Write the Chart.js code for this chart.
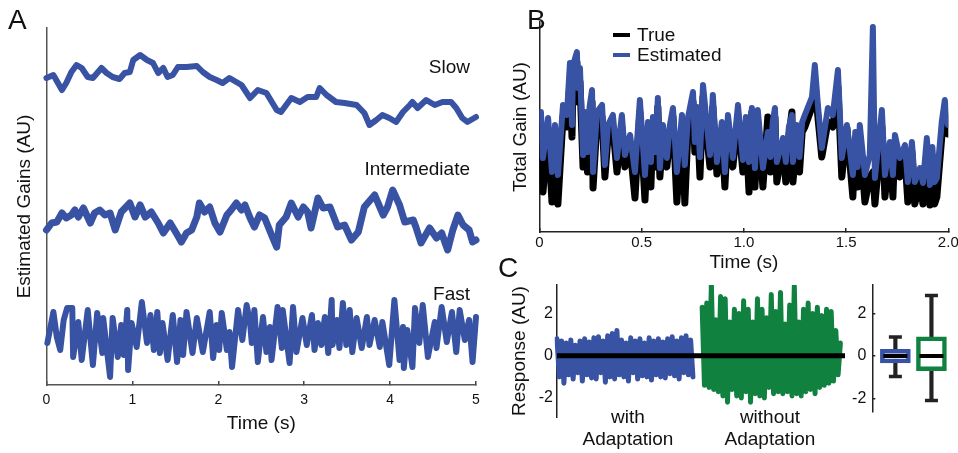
<!DOCTYPE html>
<html>
<head>
<meta charset="utf-8">
<script src="https://cdn.jsdelivr.net/npm/chart.js@4.4.1/dist/chart.umd.min.js"></script>
<style>
  body { margin: 0; width: 958px; height: 453px; position: relative; overflow: hidden; background: #fff;
         font-family: 'Liberation Sans', Arial, sans-serif; color: #111; }
  canvas { position: absolute; }
  .t { position: absolute; font-size: 19px; line-height: 19px; white-space: nowrap; }
  .big { position: absolute; font-size: 28px; line-height: 28px; }
  .two { position: absolute; font-size: 19px; line-height: 22px; width: 140px; text-align: center; }
  .key { position: absolute; width: 17px; height: 4px; }
</style>
</head>
<body>
<canvas id="chartA" width="495" height="453" style="left:0;top:0"></canvas>
<canvas id="chartB" width="463" height="290" style="left:495px;top:0"></canvas>
<canvas id="chartC" width="360" height="178" style="left:495px;top:275px"></canvas>
<canvas id="chartBox" width="118" height="178" style="left:840px;top:275px"></canvas>

<div class="big" style="left:8px;top:6px">A</div>
<div class="big" style="left:527px;top:6px">B</div>
<div class="big" style="left:498px;top:254px">C</div>

<div class="t" style="right:488px;top:57px">Slow</div>
<div class="t" style="right:488px;top:159px">Intermediate</div>
<div class="t" style="right:488px;top:284px">Fast</div>

<div class="key" style="left:613px;top:33px;background:#000"></div>
<div class="t" style="left:637px;top:25px">True</div>
<div class="key" style="left:613px;top:53px;background:#3953a4"></div>
<div class="t" style="left:637px;top:45px">Estimated</div>

<div class="two" style="left:558px;top:406px">with<br>Adaptation</div>
<div class="two" style="left:700px;top:406px">without<br>Adaptation</div>

<script>
// ---- Panel A: estimated gains (time in s, gain in AU) ----
const slowT = [0.00,0.08,0.18,0.23,0.29,0.35,0.41,0.48,0.54,0.64,0.70,0.77,0.85,0.91,0.97,1.01,1.09,1.17,1.24,1.30,
  1.36,1.41,1.47,1.53,1.63,1.75,1.82,1.90,1.98,2.05,2.13,2.21,2.27,2.37,2.46,2.56,2.68,2.73,2.85,2.95,
  3.04,3.14,3.18,3.26,3.37,3.47,3.61,3.70,3.76,3.84,3.91,3.99,4.07,4.15,4.23,4.26,4.32,4.42,4.52,4.61,
  4.71,4.77,4.84,4.90,5.00];
const slowV = [30.7,31.0,29.5,30.2,31.3,32.0,31.7,30.8,30.7,31.7,31.2,30.8,30.6,31.2,31.3,32.5,33.0,32.5,32.2,31.2,
  31.7,30.8,31.0,31.8,31.8,31.9,31.3,30.8,30.5,30.2,30.7,30.3,30.0,28.7,29.5,29.2,27.5,27.3,28.7,28.3,
  28.8,28.8,29.7,29.0,28.3,28.2,28.0,27.2,26.0,26.5,27.0,26.7,26.3,27.3,28.0,28.3,27.7,28.5,28.0,28.3,
  28.3,27.7,26.7,26.3,26.8];

const midT = [0.00,0.06,0.12,0.18,0.23,0.29,0.33,0.37,0.43,0.51,0.56,0.62,0.68,0.74,0.80,0.87,0.97,1.03,1.09,1.15,
  1.22,1.30,1.36,1.44,1.51,1.57,1.63,1.69,1.75,1.78,1.84,1.90,1.96,2.02,2.10,2.15,2.21,2.27,2.31,2.37,
  2.42,2.48,2.54,2.62,2.68,2.71,2.79,2.85,2.93,2.99,3.04,3.08,3.16,3.22,3.30,3.39,3.47,3.55,3.63,3.70,
  3.82,3.92,3.97,4.03,4.11,4.17,4.27,4.30,4.36,4.46,4.54,4.60,4.67,4.73,4.79,4.85,4.92,4.96,5.00];
const midV = [15.5,16.2,16.3,17.2,16.7,17.0,17.5,16.8,17.7,16.2,17.2,17.5,17.0,17.2,15.5,17.3,18.2,16.8,18.0,16.8,
  17.3,16.2,15.2,16.2,15.2,14.3,15.2,15.5,16.8,18.2,17.3,17.8,16.2,15.3,17.0,17.5,18.2,17.5,18.0,16.7,
  15.8,17.0,16.7,15.0,13.8,16.0,16.8,18.2,16.8,17.8,17.3,15.7,18.7,17.7,17.8,15.8,16.0,14.5,15.3,17.8,
  19.0,17.0,17.8,19.5,18.0,16.3,16.5,15.8,14.2,15.7,14.7,15.2,13.5,15.5,17.0,16.0,15.5,14.3,14.5];

const fastT = [0.01,0.08,0.12,0.16,0.20,0.24,0.30,0.31,0.37,0.41,
  0.48,0.54,0.59,0.65,0.66,0.74,0.77,0.83,0.87,0.90,
  0.94,0.95,0.99,1.05,1.11,1.17,1.21,1.25,1.29,1.32,
  1.35,1.41,1.47,1.52,1.56,1.59,1.63,1.70,1.75,1.82,
  1.90,1.94,1.98,2.01,2.04,2.10,2.13,2.16,2.23,2.28,
  2.33,2.37,2.39,2.42,2.46,2.52,2.56,2.60,2.62,2.69,
  2.74,2.75,2.83,2.87,2.91,2.98,3.03,3.09,3.12,3.16,
  3.20,3.24,3.28,3.32,3.33,3.38,3.41,3.45,3.49,3.53,
  3.56,3.61,3.67,3.73,3.76,3.82,3.88,3.91,3.99,4.05,
  4.11,4.15,4.16,4.20,4.26,4.29,4.34,4.38,4.44,4.52,
  4.54,4.60,4.66,4.72,4.77,4.81,4.87,4.92,4.96,5.00];
const fastV = [4.2,7.3,4.8,3.5,6.5,7.7,7.7,2.8,6.3,2.5,
  7.5,2.0,7.2,3.2,6.7,0.8,6.7,2.8,6.0,3.0,
  7.5,1.5,6.2,3.8,8.3,4.2,7.0,3.5,7.3,3.2,
  6.2,2.5,7.0,2.3,6.5,3.0,7.3,3.2,6.7,3.3,
  7.3,2.7,6.0,3.5,7.2,3.5,5.3,1.8,7.5,4.5,
  8.0,6.2,4.2,7.5,2.3,6.8,3.3,5.8,2.5,7.8,
  3.7,7.5,2.2,7.8,3.3,6.7,4.0,7.0,3.5,6.2,
  4.0,6.8,3.2,8.5,4.0,6.5,3.7,8.2,4.0,7.5,
  3.3,6.7,3.7,6.8,4.0,6.5,3.8,6.3,2.0,8.5,
  2.5,5.8,1.7,5.5,1.8,7.7,4.2,8.0,2.8,6.3,
  3.7,7.8,4.3,7.3,3.3,7.5,4.5,6.5,2.3,6.8];

// ---- Panel B: total gain, true vs estimated ----
const bT = [0.000,0.007,0.017,0.042,0.061,0.076,0.090,0.115,0.134,0.149,
  0.159,0.164,0.183,0.188,0.198,0.213,0.222,0.235,0.245,0.257,
  0.262,0.281,0.306,0.320,0.335,0.359,0.379,0.403,0.418,0.443,
  0.467,0.491,0.516,0.531,0.545,0.555,0.567,0.579,0.589,0.604,
  0.623,0.638,0.653,0.672,0.697,0.711,0.726,0.751,0.760,0.772,
  0.785,0.800,0.819,0.834,0.848,0.868,0.892,0.907,0.922,0.946,
  0.971,0.995,1.010,1.025,1.039,1.054,1.068,1.093,1.117,1.130,
  1.141,1.152,1.161,1.191,1.205,1.220,1.235,1.240,1.259,1.272,
  1.285,1.298,1.333,1.347,1.362,1.381,1.411,1.435,1.460,1.479,
  1.504,1.533,1.545,1.556,1.567,1.592,1.616,1.631,1.641,1.675,
  1.690,1.714,1.729,1.739,1.763,1.788,1.802,1.822,1.836,1.861,
  1.876,1.895,1.910,1.922,1.933,1.944,1.968,1.983,1.998];
const estGain = [9.4,12.0,7.4,11.4,6.0,10.7,5.7,12.7,11.7,16.9,
  10.7,16.7,18.0,14.4,16.4,7.7,12.0,8.0,12.5,14.2,
  6.0,12.0,12.7,6.7,10.7,11.7,7.4,11.7,7.7,9.7,
  6.0,13.2,5.7,11.0,7.0,11.5,8.0,13.4,6.4,10.7,
  7.4,10.7,12.4,6.0,11.7,6.7,11.4,14.0,9.0,12.5,
  7.5,14.7,10.7,7.7,13.7,7.0,11.0,6.0,11.7,7.4,
  12.7,7.2,11.5,7.0,12.4,6.4,12.2,6.4,10.0,7.5,
  11.0,12.4,7.0,9.4,7.0,10.5,11.7,7.0,10.7,7.5,
  11.0,11.7,13.5,16.7,12.7,8.4,12.4,11.7,16.2,7.4,
  10.7,5.7,10.0,6.5,10.7,5.7,7.7,20.5,5.4,12.2,
  5.7,9.0,5.7,9.7,7.4,8.7,5.0,9.0,5.0,6.4,
  4.9,9.4,4.7,8.5,5.0,5.4,11.0,13.2,10.7];
const trueGain = [8.5,10.5,4.0,10.0,3.0,9.5,2.8,11.5,10.5,15.0,
  9.5,15.5,17.0,13.0,15.0,6.5,11.0,6.0,11.5,13.0,
  4.4,11.0,11.5,5.5,9.5,10.5,6.0,10.5,6.5,8.5,
  3.4,12.0,3.2,10.0,4.5,10.5,6.5,12.5,5.5,9.5,
  6.5,9.5,11.5,3.0,10.5,2.9,10.0,13.0,8.0,11.5,
  5.5,13.5,9.5,6.5,12.5,5.8,10.0,4.5,10.5,6.5,
  11.5,6.0,10.5,4.0,12.0,4.5,11.0,4.5,11.5,6.0,
  10.5,11.5,5.0,8.5,5.0,9.5,12.0,5.0,9.5,6.0,
  10.0,10.5,12.5,15.0,11.5,7.5,11.0,10.5,14.5,5.5,
  10.4,3.5,9.0,4.5,9.5,3.0,5.5,6.0,2.8,10.5,
  3.5,8.5,3.5,9.0,5.5,7.5,3.0,8.0,2.8,5.0,
  2.8,8.0,2.7,7.0,2.8,3.5,9.5,12.0,9.8];

// ---- Panel C: response with / without adaptation ----
const withAdapt = [0.8,-1.0,0.7,-1.3,0.6,-0.9,0.75,-1.1,0.5,-0.8,0.7,-1.2,0.8,-0.9,0.65,-1.05,0.85,-1.1,0.9,-0.8,
  0.7,-1.25,0.95,-1.0,1.05,-1.1,1.2,-0.9,0.75,-1.0,0.6,-1.2,0.85,-0.8,0.7,-1.1,0.8,-0.95,0.6,-1.0,
  0.85,-1.15,0.7,-0.9,0.8,-1.0,0.65,-1.05,0.8,-0.85,0.9,-0.95,0.7,-1.1,0.85,-0.8,0.95,-0.9,0.75,-1.0];
const withoutAdapt = [2.3,-1.4,2.5,-1.5,3.4,-1.6,1.7,-1.7,2.8,-1.9,2.7,-2.2,1.6,-1.6,2.2,-1.9,2.0,-2.0,2.6,-1.7,
  2.2,-2.2,1.6,-1.8,2.7,-1.9,2.2,-2.0,1.8,-1.5,2.9,-1.8,2.1,-1.7,3.0,-1.8,1.5,-1.7,2.4,-1.9,
  3.3,-1.8,1.6,-1.9,2.2,-1.7,2.5,-1.6,2.0,-1.8,2.3,-1.5,1.9,-1.4,2.2,-1.3,2.1,-1.2,1.2,-0.9,0.6];
const gapSamples = 3;
const tailSamples = 2;

// box plot summaries
const boxGroups = [1, 2];
const boxMin = [-0.97, -2.11];
const boxQ1 = [-0.33, -0.70];
const boxMed = [0, 0];
const boxQ3 = [0.32, 0.91];
const boxMax = [0.90, 2.86];

const blue = '#3953a4', green = '#11813f', ink = '#111';
Chart.defaults.font.family = "'Liberation Sans', Arial, sans-serif";
Chart.defaults.color = ink;

const pts = (xs, ys) => xs.map((x, i) => ({ x, y: ys[i] }));
function fix(size) {
  return s => {
    if (s.isHorizontal()) { s.height = size; s.paddingLeft = 0; s.paddingRight = 0; }
    else { s.width = size; s.paddingTop = 0; s.paddingBottom = 0; }
  };
}
const common = {
  responsive: false, animation: false, devicePixelRatio: 1,
  elements: { point: { radius: 0 }, line: { tension: 0, borderJoinStyle: 'round', borderCapStyle: 'round' } },
  plugins: { legend: { display: false }, tooltip: { enabled: false } }
};

// A
new Chart(document.getElementById('chartA'), {
  type: 'line',
  data: { datasets: [
    { data: pts(slowT, slowV), borderColor: blue, borderWidth: 6, clip: false },
    { data: pts(midT, midV), borderColor: blue, borderWidth: 7, clip: false },
    { data: pts(fastT, fastV), borderColor: blue, borderWidth: 6, clip: false }
  ]},
  options: { ...common,
    layout: { autoPadding: false, padding: { left: 0, right: 19, top: 28, bottom: 0 } },
    scales: {
      x: { type: 'linear', min: 0, max: 5,
        ticks: { stepSize: 1, font: { size: 14 }, padding: 11 },
        grid: { drawOnChartArea: false, tickLength: -4, color: '#444', lineWidth: 1.5 },
        border: { color: '#555', width: 1.5 },
        title: { display: true, text: 'Time (s)', font: { size: 19 }, padding: { top: 0, bottom: 17.6 } },
        afterFit: fix(68) },
      y: { min: 0, max: 35.7,
        ticks: { display: false }, grid: { display: false },
        border: { color: '#555', width: 1.5 },
        title: { display: true, text: 'Estimated Gains (AU)', font: { size: 19 }, padding: { top: 13.6, bottom: 0 } },
        afterFit: fix(46.5) }
    }
  }
});

// B
new Chart(document.getElementById('chartB'), {
  type: 'line',
  data: { datasets: [
    { label: 'True', data: pts(bT, trueGain), borderColor: '#000', borderWidth: 7, order: 2 },
    { label: 'Estimated', data: pts(bT, estGain), borderColor: blue, borderWidth: 6, order: 1 }
  ]},
  options: { ...common,
    layout: { autoPadding: false, padding: { left: 0, right: 9.7, top: 22, bottom: 0 } },
    scales: {
      x: { type: 'linear', min: 0, max: 2,
        ticks: { stepSize: 0.5, font: { size: 15 }, padding: 6, callback: v => v === 0 ? '0' : v.toFixed(1) },
        grid: { drawOnChartArea: false, tickLength: -4, color: '#222', lineWidth: 1.5 },
        border: { color: '#222', width: 1.5 },
        title: { display: true, text: 'Time (s)', font: { size: 19 }, padding: { top: 0, bottom: 16 } },
        afterFit: fix(58) },
      y: { min: 0, max: 21,
        ticks: { display: false }, grid: { display: false },
        border: { color: '#222', width: 1.5 },
        title: { display: true, text: 'Total Gain (AU)', font: { size: 19 }, padding: { top: 14.6, bottom: 0 } },
        afterFit: fix(44.5) }
    }
  }
});

// C, time series
const nSamples = withAdapt.length + gapSamples + withoutAdapt.length + tailSamples;
const sampleIdx = Array.from({ length: nSamples }, (_, i) => i);
const withSeries = withAdapt.concat(Array(nSamples - withAdapt.length).fill(null));
const withoutSeries = Array(withAdapt.length + gapSamples).fill(null).concat(withoutAdapt, Array(tailSamples).fill(null));
const zeroLine = sampleIdx.map(() => 0);

new Chart(document.getElementById('chartC'), {
  type: 'line',
  data: { labels: sampleIdx, datasets: [
    { data: zeroLine, borderColor: '#000', borderWidth: 5, borderCapStyle: 'butt', order: 0 },
    { data: withSeries, borderColor: blue, borderWidth: 5, order: 1, spanGaps: false },
    { data: withoutSeries, borderColor: green, borderWidth: 5, order: 2, spanGaps: false }
  ]},
  options: { ...common,
    layout: { autoPadding: false, padding: { left: 0, right: 10, top: 10, bottom: 36 } },
    scales: {
      x: { display: false },
      y: { min: -2.9, max: 3.35,
        ticks: { stepSize: 2, includeBounds: false, font: { size: 16 }, padding: 4 },
        grid: { drawOnChartArea: false, drawTicks: false },
        border: { color: '#222', width: 1.5 },
        title: { display: true, text: 'Response (AU)', font: { size: 19 }, padding: { top: 13.6, bottom: 0 } },
        afterFit: fix(62) }
    }
  }
});

// C, box plots
new Chart(document.getElementById('chartBox'), {
  type: 'bar',
  data: { datasets: [
    { data: boxGroups.map((g, i) => ({ x: g, y: [boxMin[i], boxMax[i]] })), backgroundColor: '#222',
      barThickness: 3.5, grouped: false, order: 4 },
    { data: boxGroups.map((g, i) => ({ x: g, y: [boxQ1[i], boxQ3[i]] })), backgroundColor: '#fff',
      borderColor: [blue, green], borderWidth: 4.5, borderSkipped: false, barThickness: 30, grouped: false, order: 3 },
    { type: 'line', data: pts(boxGroups, boxMax), showLine: false, pointStyle: 'line', pointRadius: 6.5,
      pointBorderWidth: 3.5, pointBorderColor: '#222', order: 2 },
    { type: 'line', data: pts(boxGroups, boxMin), showLine: false, pointStyle: 'line', pointRadius: 6.5,
      pointBorderWidth: 3.5, pointBorderColor: '#222', order: 2 },
    { type: 'line', data: pts(boxGroups, boxMed), showLine: false, pointStyle: 'line', pointRadius: 12,
      pointBorderWidth: 4, pointBorderColor: '#000', order: 1 }
  ]},
  options: { ...common,
    layout: { autoPadding: false, padding: { left: 0, right: 6, top: 10, bottom: 41 } },
    scales: {
      x: { type: 'linear', offset: false, min: 0.36, max: 2.57, display: false },
      y: { min: -2.65, max: 3.36,
        ticks: { stepSize: 2, includeBounds: false, font: { size: 16 }, padding: 9 },
        grid: { drawOnChartArea: false, tickLength: -3, color: '#222', lineWidth: 1.5 },
        border: { color: '#222', width: 1.5 },
        afterFit: fix(32.3) }
    }
  }
});
</script>
</body>
</html>
